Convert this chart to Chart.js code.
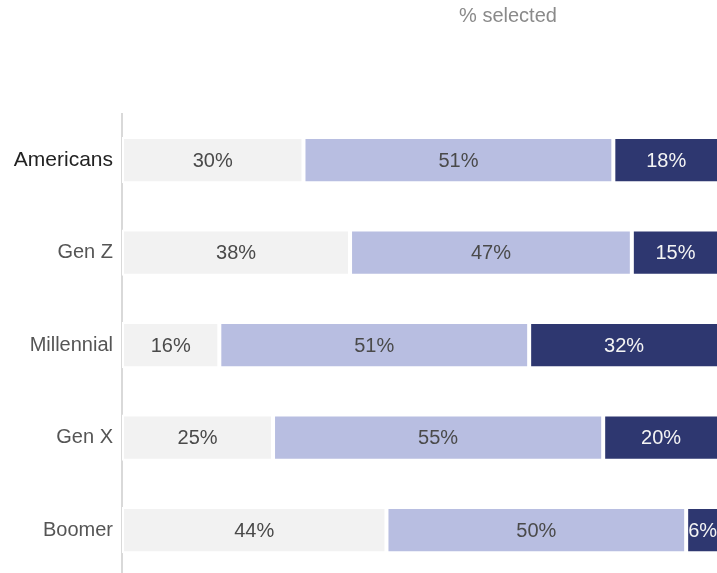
<!DOCTYPE html>
<html>
<head>
<meta charset="utf-8">
<script src="https://cdn.jsdelivr.net/npm/chart.js@4"></script>
<style>
    html, body { margin: 0; padding: 0; background: #ffffff; overflow: hidden; }
    #wrap { position: relative; width: 719px; height: 598px; }
    #title {
        position: absolute; top: 4px; left: 408px; width: 200px;
        text-align: center; font: 20px "Liberation Sans", Arial, sans-serif; color: #8a8a8a;
    }
</style>
</head>
<body>
<div id="wrap">
    <div id="title">% selected</div>
    <canvas id="selChart" width="719" height="598"></canvas>
</div>
<script>
// ======================================================
// DATA
// ======================================================
const categories = ["Americans", "Gen Z", "Millennial", "Gen X", "Boomer"];

// bar lengths (%)
const lowValues  = [30.4, 38.2, 16.3, 25.3, 44.3];
const midValues  = [51.9, 47.2, 51.9, 55.3, 50.2];
const highValues = [17.7, 14.6, 31.8, 19.4, 5.5];

// printed labels
const lowLabels  = [30, 38, 16, 25, 44];
const midLabels  = [51, 47, 51, 55, 50];
const highLabels = [18, 15, 32, 20, 6];

const FONT = "'Liberation Sans', Arial, sans-serif";


// ======================================================
// LABELS IN BARS
// ======================================================
const barLabels = {
    id: "barLabels",
    afterDatasetsDraw(chart) {
        const ctx = chart.ctx;
        ctx.save();
        ctx.font = "20px " + FONT;
        ctx.textAlign = "center";
        ctx.textBaseline = "middle";
        chart.data.datasets.forEach((ds, i) => {
            const meta = chart.getDatasetMeta(i);
            meta.data.forEach((bar, j) => {
                ctx.fillStyle = ds.labelColor;
                ctx.fillText(ds.printed[j] + "%", (bar.base + bar.x) / 2, bar.y + 1);
            });
        });
        ctx.restore();
    }
};


// ======================================================
// CHART
// ======================================================
new Chart(document.getElementById("selChart"), {

    type: "bar",

    data: {
        labels: categories,
        datasets: [
            { data: lowValues,  printed: lowLabels,  backgroundColor: "#f2f2f2", labelColor: "#4a4a4a" },
            { data: midValues,  printed: midLabels,  backgroundColor: "#b8bee1", labelColor: "#4a4a4a" },
            { data: highValues, printed: highLabels, backgroundColor: "#2e3770", labelColor: "#f4f4f4" }
        ]
    },

    options: {
        indexAxis: "y",
        responsive: false,
        animation: false,
        layout: { padding: { top: 114, right: 0, bottom: 0, left: 0 } },
        datasets: {
            bar: {
                borderColor: "#ffffff",
                borderWidth: 2,
                borderSkipped: false,
                barPercentage: 1,
                categoryPercentage: 0.5
            }
        },
        plugins: {
            legend: { display: false },
            title: { display: false },
            tooltip: { enabled: false }
        },
        scales: {
            x: {
                stacked: true,
                display: false,
                min: 0,
                max: 100
            },
            y: {
                stacked: true,
                afterFit(scale) { scale.width = 122; },
                grid: { display: false, drawTicks: false },
                border: { display: true, color: "#d9d9d9", width: 2 },
                ticks: {
                    padding: 9,
                    color: (c) => c.index === 0 ? "#222222" : "#555555",
                    font: (c) => ({ family: FONT, size: c.index === 0 ? 21 : 20 })
                }
            }
        }
    },

    plugins: [barLabels]
});
</script>
</body>
</html>
